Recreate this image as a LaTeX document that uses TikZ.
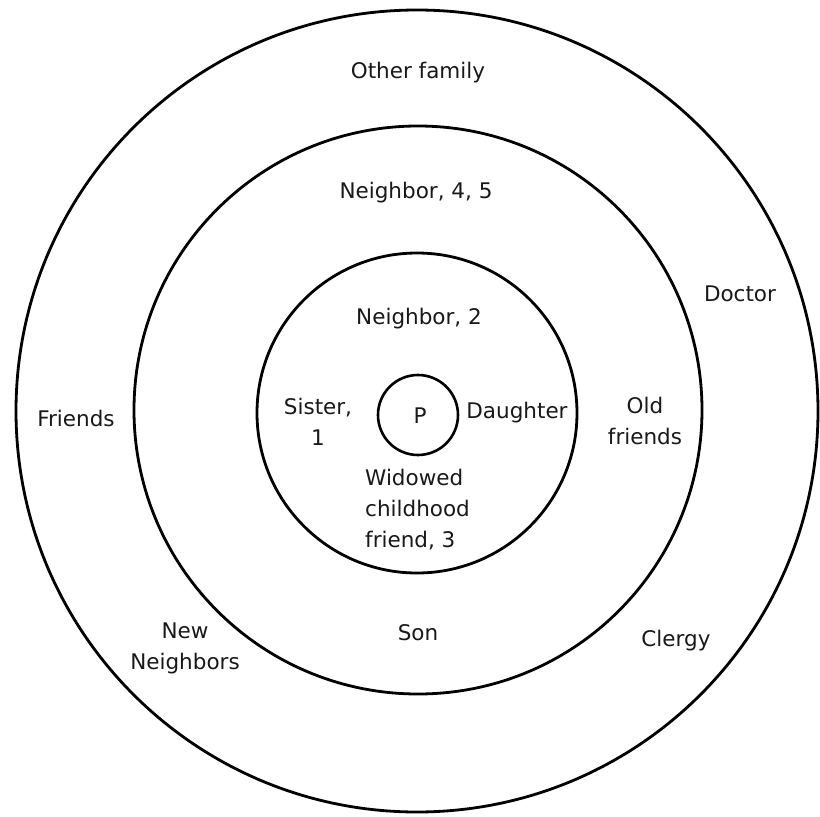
\documentclass[tikz,border=0pt]{standalone}
\usepackage{fontspec}
\setmainfont{DejaVu Sans}
\begin{document}
\begin{tikzpicture}[x=1pt,y=-1pt,
  ring/.style={draw=black,line width=2.8pt,circle,inner sep=0pt},
  lbl/.style={font=\fontsize{21.5}{31}\selectfont,inner sep=0pt,text=black!90},
  lblc/.style={lbl,align=center},
  lbll/.style={lbl,align=left}]
\useasboundingbox (0,0) rectangle (820,817);
\fill[white] (0,0) rectangle (820,817);
\node[ring,minimum size=802pt] (outer) at (417,411) {};
\node[ring,minimum size=568pt] (middle) at (418,410) {};
\node[ring,minimum size=320pt] (inner) at (417,413) {};
\node[ring,minimum size=80pt,line width=2.6pt] (pc) at (418,415) {};
\node[lbl] (p) at (420,416) {P};
\node[lbl] (other) at (418,73) {Other family};
\node[lbl] (n45) at (416,193) {Neighbor, 4, 5};
\node[lbl] (doctor) at (740,294) {Doctor};
\node[lbl] (n2) at (419,319) {Neighbor, 2};
\node[lbl] (friends) at (76,418) {Friends};
\node[lblc] (sister) at (318,422) {Sister,\\1};
\node[lbl] (daughter) at (517,413) {Daughter};
\node[lblc] (old) at (645,421) {Old\\friends};
\node[lbll,anchor=west] (widowed) at (365,510) {Widowed\\childhood\\friend, 3};
\node[lblc] (newn) at (185,648) {New\\Neighbors};
\node[lbl] (son) at (418,633) {Son};
\node[lbl] (clergy) at (676,641) {Clergy};
\end{tikzpicture}
\end{document}
